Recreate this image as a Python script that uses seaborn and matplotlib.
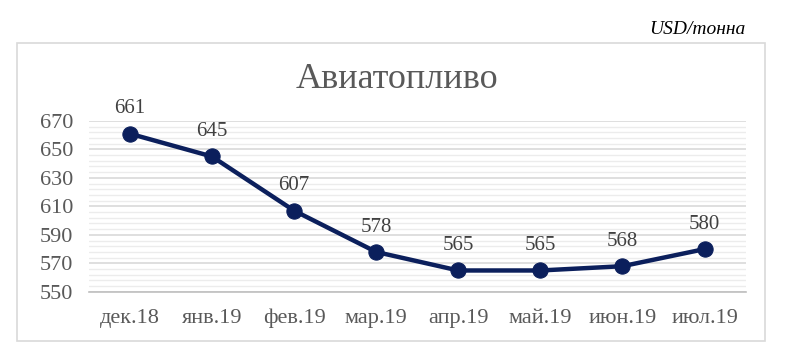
import matplotlib.pyplot as plt
import seaborn as sns
import pandas as pd
from matplotlib.ticker import FixedLocator
from matplotlib.patches import Rectangle

months = ["дек.18", "янв.19", "фев.19", "мар.19", "апр.19", "май.19", "июн.19", "июл.19"]
prices = [661, 645, 607, 578, 565, 565, 568, 580]

df = pd.DataFrame({"month": months, "price": prices})

sns.set_style("white")
plt.rcParams["font.family"] = ["Liberation Serif", "DejaVu Serif"]

fig = plt.figure(figsize=(8, 3.63), dpi=100)
ax = fig.add_axes([0.111, 0.196, 0.821, 0.471])

navy = "#0b1f5c"
sns.lineplot(data=df, x="month", y="price", ax=ax, color=navy, linewidth=3.2,
             marker="o", markersize=11, markeredgecolor=navy, sort=False)

for i, v in enumerate(prices):
    ax.annotate(str(v), (i, v), xytext=(0, 11), textcoords="offset points",
                ha="center", va="bottom", fontsize=15, color="#404040")

ax.set_xlim(-0.5, len(months) - 0.5)
ax.set_ylim(550, 670)
ax.yaxis.set_major_locator(FixedLocator(range(550, 671, 20)))
ax.yaxis.set_minor_locator(FixedLocator(range(550, 671, 4)))
ax.grid(which="major", axis="y", color="#d9d9d9", linewidth=1.2)
ax.grid(which="minor", axis="y", color="#ececec", linewidth=1.0)
ax.set_axisbelow(True)

for s in ["top", "right", "left"]:
    ax.spines[s].set_visible(False)
ax.spines["bottom"].set_color("#bfbfbf")
ax.spines["bottom"].set_linewidth(1.2)

ax.set_xticks(range(len(months)))
ax.set_xticklabels(months)
ax.set_xticks([i + 0.5 for i in range(-1, len(months))], minor=True)
ax.tick_params(axis="x", which="major", length=0, pad=12, labelsize=16, labelcolor="#595959")
ax.tick_params(axis="x", which="minor", length=6, color="#bfbfbf", width=1.2, direction="out")
ax.tick_params(axis="y", which="both", length=0, labelsize=16, labelcolor="#595959", pad=11)
ax.set_xlabel("")
ax.set_ylabel("")

fig.patches.append(Rectangle((17 / 800, 1 - 341 / 363), (765 - 17) / 800, (341 - 43) / 363,
                             transform=fig.transFigure, fill=False, edgecolor="#d9d9d9",
                             linewidth=1.2))

fig.text(0.496, 1 - 80 / 363, "Авиатопливо", ha="center", va="center",
         fontsize=26, color="#595959")
fig.text(745 / 800, 1 - 29 / 363, "USD/тонна", ha="right", va="center",
         fontsize=14, style="italic", color="black")

plt.savefig("out.png", dpi=100)
